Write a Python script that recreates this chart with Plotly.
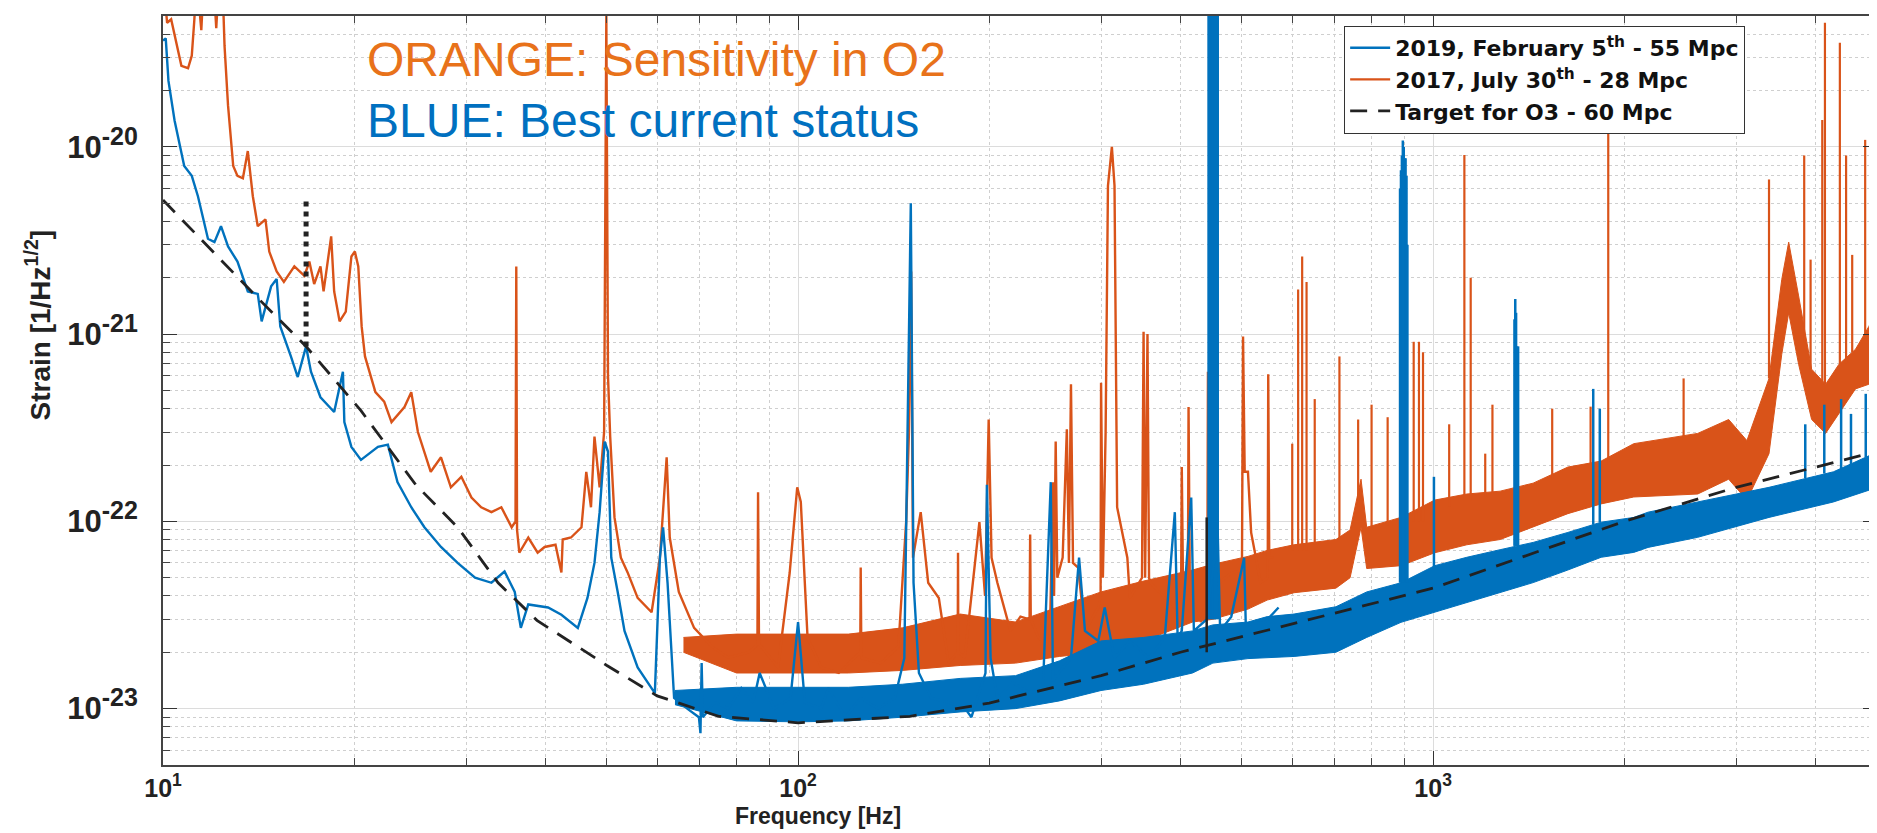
import math
import plotly.graph_objects as go

# ---------------- data ----------------
# Target for O3 (dashed)
target_f = [10.0, 12.05, 14.1, 16.8, 20.5, 25.0, 29.1, 33.7, 38.8, 50.0, 60.0,
            75.0, 100.0, 150.0, 200.0, 300.0, 400.0, 550.0, 1000.0, 2000.0, 3000.0, 5000.0]
target_h = [5.2e-21, 2.72e-21, 1.56e-21, 8.6e-22, 3.9e-22, 1.57e-22, 9.3e-23, 4.7e-23, 2.96e-23, 1.7e-23, 1.17e-23,
            9.1e-24, 8.4e-24, 9.1e-24, 1.07e-23, 1.5e-23, 2.0e-23, 2.63e-23, 4.4e-23, 1.0e-22, 1.52e-22, 2.36e-22]
target_dot_f = [16.8]
target_dot_lo = [8.6e-22]
target_dot_hi = [5.4e-21]
target_bar_f = [440.0]
target_bar_lo = [2.0e-23]
target_bar_hi = [1.05e-22]

# 2019, February 5th (blue) - low/mid frequency trace
blue_f = [10.0, 10.1, 10.2, 10.43, 10.8, 11.1, 11.35, 11.77, 12.05, 12.34,
          12.66, 13.1, 13.6, 14.1, 14.3, 14.8, 15.1, 15.3, 15.9, 16.3,
          16.8, 17.1, 17.7, 18.6, 19.2, 19.3, 19.8, 20.5, 21.8, 22.6,
          23.4, 24.6, 25.8, 27.4, 29.1, 31.0, 32.9, 34.5, 35.8, 36.6,
          37.6, 40.4, 42.4, 45.0, 46.6, 47.8, 48.7, 49.6, 50.2, 50.8,
          52.0, 53.3, 55.9, 59.5, 60.6, 61.3, 62.3, 63.8, 66.9, 69.8,
          70.2, 70.5, 70.8, 74.0, 77.6, 81.4, 85.0, 87.0, 91.7, 97.3,
          100.0, 102.5, 108.8, 111.6, 118.7, 125.5, 133.6, 142.0, 147.0, 150.5,
          152.0, 155.0, 162.0, 172.6, 183.3, 187.5, 197.3, 198.3, 201.0, 206.0,
          218.0, 232.0, 243.0, 250.0, 252.0, 257.0, 269.0, 277.0, 283.0, 297.0,
          304.0, 315.0, 333.0, 357.0, 378.0, 392.0, 396.0, 402.0, 416.0, 420.0,
          440.0, 458.0, 462.0, 481.0, 504.0, 507.0, 544.0, 571.0]
blue_h = [3.7e-20, 3.8e-20, 2.25e-20, 1.38e-20, 7.9e-21, 7.0e-21, 5.45e-21, 3.23e-21, 3.1e-21, 3.77e-21,
          2.94e-21, 2.44e-21, 1.69e-21, 1.64e-21, 1.17e-21, 1.8e-21, 1.97e-21, 1.1e-21, 7.6e-22, 5.9e-22,
          8.6e-22, 6.3e-22, 4.6e-22, 3.84e-22, 6.3e-22, 3.39e-22, 2.5e-22, 2.13e-22, 2.5e-22, 2.57e-22,
          1.62e-22, 1.19e-22, 9.3e-23, 7.3e-23, 6.0e-23, 5.0e-23, 4.7e-23, 5.4e-23, 4.2e-23, 2.7e-23,
          3.6e-23, 3.47e-23, 3.17e-23, 2.7e-23, 3.9e-23, 6.0e-23, 1.12e-22, 2.67e-22, 2.36e-22, 6.4e-23,
          4.2e-23, 2.6e-23, 1.66e-23, 1.21e-23, 6.4e-23, 9.3e-23, 4.7e-23, 1.14e-23, 1.0e-23, 9.0e-24,
          7.4e-24, 1.75e-23, 9.0e-24, 1.08e-23, 1.0e-23, 1.29e-23, 1.08e-23, 1.55e-23, 1.0e-23, 1.14e-23,
          2.9e-23, 1.08e-23, 1.0e-23, 1.29e-23, 9.0e-24, 1.14e-23, 1.0e-23, 1.14e-23, 1.86e-23, 5.0e-21,
          4.7e-23, 1.55e-23, 1.14e-23, 1.08e-23, 1.0e-23, 9.0e-24, 1.55e-23, 1.57e-22, 1.86e-23, 1.14e-23,
          1.38e-23, 1.21e-23, 1.29e-23, 1.62e-22, 1.4e-23, 1.55e-23, 1.86e-23, 6.4e-23, 2.6e-23, 2.3e-23,
          3.47e-23, 1.86e-23, 2.3e-23, 1.86e-23, 2.4e-23, 1.12e-22, 2.4e-23, 2.6e-23, 1.34e-22, 2.6e-23,
          3.0e-23, 8.7e-23, 2.6e-23, 3.1e-23, 6.4e-23, 2.8e-23, 2.9e-23, 3.47e-23]

# blue noise band (lower / upper envelope)
blue_band_f = [64, 80, 100, 120, 146, 180, 220, 258, 300, 350, 418, 450, 511, 548,
               604, 703, 786, 890, 1006, 1130, 1275, 1437, 1630, 1839, 2070, 2180, 2610, 3380, 4270, 5010]
blue_band_lo = [1.05e-23, 8.6e-24, 8.5e-24, 8.6e-24, 9.0e-24, 9.6e-24, 1.0e-23, 1.1e-23,
                1.25e-23, 1.35e-23, 1.55e-23, 1.75e-23, 1.85e-23, 1.87e-23, 1.9e-23, 2.0e-23, 2.4e-23,
                2.89e-23, 3.27e-23, 3.68e-23, 4.17e-23, 4.71e-23, 5.5e-23, 6.43e-23, 6.83e-23, 7.26e-23,
                8.22e-23, 1.05e-22, 1.27e-22, 1.52e-22]
blue_band_hi = [1.25e-23, 1.3e-23, 1.3e-23, 1.3e-23, 1.35e-23, 1.45e-23, 1.5e-23, 1.8e-23,
                2.3e-23, 2.4e-23, 2.6e-23, 2.8e-23, 2.9e-23, 3.1e-23, 3.2e-23, 3.5e-23, 4.2e-23,
                4.7e-23, 5.8e-23, 6.43e-23, 7.06e-23, 7.72e-23, 8.73e-23, 9.9e-23, 1.05e-22, 1.12e-22,
                1.27e-22, 1.52e-22, 1.84e-22, 2.35e-22]

# blue spectral lines
blue_line_f = [443, 445.5, 448, 450.5, 453, 455.5, 458,
               887, 890, 893, 896, 899, 902, 905, 908, 911,
               1003, 1343, 1347, 1351, 1356, 1361,
               1787, 1830, 3855, 4130, 4390, 4550, 4800, 4990]
blue_line_base = [3.0e-23, 3.0e-23, 3.0e-23, 3.0e-23, 3.0e-23, 3.0e-23, 3.0e-23,
                  4.7e-23, 4.7e-23, 4.7e-23, 4.7e-23, 4.7e-23, 4.7e-23, 4.7e-23, 4.7e-23, 4.7e-23,
                  5.7e-23, 7.4e-23, 7.4e-23, 7.4e-23, 7.4e-23, 7.4e-23,
                  9.6e-23, 9.9e-23, 1.7e-22, 1.8e-22, 1.9e-22, 2.0e-22, 2.2e-22, 2.3e-22]
blue_line_top = [9e-20, 9e-20, 9e-20, 9e-20, 9e-20, 9e-20, 9e-20,
                 6e-21, 7.5e-21, 9e-21, 1.08e-20, 1.0e-20, 8.7e-21, 8.7e-21, 7e-21, 3e-21,
                 1.73e-22, 1.2e-21, 1.54e-21, 1.3e-21, 8.6e-22, 8.6e-22,
                 5.1e-22, 4.0e-22, 3.3e-22, 4.2e-22, 4.5e-22, 3.75e-22, 4.8e-22, 5.1e-22]

# 2017, July 30th (orange) - low/mid frequency trace
orange_f = [10.0, 10.15, 10.3, 10.69, 10.95, 11.1, 11.2, 11.3, 11.49, 11.6,
            12.0, 12.13, 12.25, 12.4, 12.5, 12.66, 12.9, 13.1, 13.36, 13.6,
            13.85, 14.1, 14.5, 14.7, 15.1, 15.5, 16.1, 16.7, 17.0, 17.3,
            17.7, 17.9, 18.4, 18.6, 18.97, 19.4, 19.8, 20.05, 20.3, 20.55,
            20.8, 21.6, 22.3, 22.9, 24.0, 24.6, 25.2, 26.4, 27.4, 28.4,
            29.5, 30.6, 31.7, 32.9, 34.1, 35.4, 35.9, 36.0, 36.1, 36.4,
            37.6, 38.9, 39.9, 41.5, 42.4, 42.6, 43.9, 45.6, 46.4, 47.2,
            47.8, 48.7, 49.5, 49.9, 50.2, 50.6, 51.4, 52.6, 53.9, 55.9,
            58.8, 60.6, 62.1, 62.8, 64.9, 68.6, 73.1, 77.6, 83.7, 86.3,
            86.5, 86.8, 87.5, 93.0, 97.0, 99.7, 101.0, 103.5, 108.8, 115.9,
            125.3, 125.5, 125.8, 135.0, 143.9, 148.0, 149.5, 150.7, 151.7, 156.0,
            160.3, 166.6, 172.6, 178.4, 178.6, 178.8, 183.0, 193.0, 197.0, 199.6,
            201.7, 206.0, 216.0, 224.0, 231.5, 232.0, 232.5, 239.0, 249.0, 252.0,
            253.0, 254.5, 256.0, 261.0, 265.0, 267.0, 269.0, 271.0, 276.0, 283.0,
            297.0, 299.5, 300.0, 302.0, 305.0, 307.6, 312.0, 315.0, 318.0, 330.0,
            333.0, 348.0, 350.0, 352.0, 355.0, 357.0, 359.0, 378.0, 392.0, 401.0,
            402.0, 404.0, 411.0, 412.0, 414.0, 421.0, 431.0, 441.0, 442.0, 444.0,
            451.0, 460.0, 481.0, 500.0, 502.0, 505.0, 511.0, 517.0, 535.0, 549.0,
            550.0, 552.0, 561.0]
orange_h = [8e-20, 4.6e-20, 4.8e-20, 2.71e-20, 2.63e-20, 3.07e-20, 4.7e-20, 8e-20, 4.2e-20, 8e-20,
            8e-20, 4.3e-20, 8e-20, 8e-20, 3.46e-20, 1.66e-20, 7.9e-21, 7.0e-21, 6.8e-21, 9.5e-21,
            5.45e-21, 3.77e-21, 4.1e-21, 2.76e-21, 2.16e-21, 1.9e-21, 2.3e-21, 2.05e-21, 2.44e-21, 1.85e-21,
            2.3e-21, 1.69e-21, 3.33e-21, 1.69e-21, 1.17e-21, 1.32e-21, 2.6e-21, 2.76e-21, 2.3e-21, 1.1e-21,
            7.6e-22, 4.9e-22, 4.36e-22, 3.39e-22, 4.08e-22, 4.9e-22, 3.0e-22, 1.84e-22, 2.2e-22, 1.52e-22,
            1.73e-22, 1.34e-22, 1.19e-22, 1.12e-22, 1.19e-22, 9.3e-23, 1.0e-22, 2.3e-21, 9.0e-23, 6.8e-23,
            8.2e-23, 6.8e-23, 7.3e-23, 7.5e-23, 5.34e-23, 8.0e-23, 8.2e-23, 9.3e-23, 1.84e-22, 1.19e-22,
            2.84e-22, 1.52e-22, 3.0e-22, 5.0e-20, 6.0e-22, 2.84e-22, 1.05e-22, 6.4e-23, 5.34e-23, 3.9e-23,
            3.27e-23, 6.4e-23, 2.2e-22, 8.2e-23, 4.2e-23, 2.7e-23, 2.15e-23, 1.87e-23, 2.0e-23, 2.2e-23,
            1.43e-22, 2.2e-23, 2.15e-23, 1.66e-23, 5.3e-23, 1.52e-22, 1.27e-22, 2.4e-23, 1.66e-23, 1.55e-23,
            2.0e-23, 5.67e-23, 1.87e-23, 1.75e-23, 2.15e-23, 1.0e-22, 3.0e-22, 2.16e-21, 6.4e-23, 1.12e-22,
            4.7e-23, 3.9e-23, 1.75e-23, 2.0e-23, 6.8e-23, 2.0e-23, 1.87e-23, 9.9e-23, 4.0e-23, 3.5e-22,
            6.4e-23, 4.7e-23, 2.6e-23, 3.1e-23, 3.0e-23, 8.5e-23, 3.0e-23, 2.4e-23, 2.15e-23, 1.62e-22,
            4.0e-23, 2.67e-22, 5.0e-23, 6.4e-23, 3.1e-22, 6.0e-23, 5.4e-22, 6.0e-23, 5.67e-23, 2.6e-23,
            3.47e-23, 4.0e-23, 5.5e-22, 5.0e-23, 3.0e-22, 6.2e-21, 1.0e-20, 6.2e-21, 1.19e-22, 6.4e-23,
            3.9e-23, 5.0e-23, 1.03e-21, 5.0e-23, 1.0e-21, 5.0e-23, 4.7e-23, 3.9e-23, 3.47e-23, 4.0e-23,
            1.95e-22, 4.0e-23, 4.0e-23, 4.08e-22, 4.0e-23, 3.47e-23, 2.9e-23, 4.0e-23, 6.3e-22, 6.4e-23,
            6.4e-23, 4.7e-23, 5.3e-23, 5.5e-23, 9.7e-22, 1.84e-22, 1.84e-22, 8.7e-23, 4.7e-23, 5.0e-23,
            6.1e-22, 6.4e-23, 6.4e-23]

# orange noise band (lower / upper envelope)
orange_band_f = [66, 80, 100, 120, 146, 180, 220, 258, 300, 350, 418, 450, 511, 548,
                 604, 703, 740, 770, 786, 890, 1006, 1130, 1275, 1437, 1630, 1839, 2070, 2610,
                 2920, 3120, 3380, 3540, 3630, 3763, 3945, 4150, 4355, 4625, 4855, 5040]
orange_band_lo = [2.0e-23, 1.55e-23, 1.55e-23, 1.55e-23, 1.6e-23, 1.7e-23, 1.75e-23, 1.9e-23,
                  2.0e-23, 2.3e-23, 2.9e-23, 3.0e-23, 3.4e-23, 3.8e-23, 4.16e-23, 4.4e-23, 5.0e-23, 9.3e-23,
                  5.6e-23, 5.8e-23, 6.8e-23, 7.5e-23, 8.0e-23, 9.3e-23, 1.1e-22, 1.24e-22, 1.35e-22, 1.4e-22,
                  1.68e-22, 1.3e-22, 2.3e-22, 7.8e-22, 1.3e-21, 6.9e-22, 3.5e-22, 2.95e-22, 3.75e-22,
                  5.1e-22, 5.4e-22, 7.8e-22]
orange_band_hi = [2.4e-23, 2.5e-23, 2.5e-23, 2.5e-23, 2.7e-23, 3.2e-23, 2.9e-23, 3.5e-23,
                  4.2e-23, 4.8e-23, 5.5e-23, 5.9e-23, 6.5e-23, 7.0e-23, 7.5e-23, 8.0e-23, 9.0e-23, 1.68e-22,
                  9.3e-23, 1.05e-22, 1.3e-22, 1.4e-22, 1.45e-22, 1.6e-22, 1.95e-22, 2.1e-22, 2.6e-22, 2.95e-22,
                  3.5e-22, 2.7e-22, 5.8e-22, 1.96e-21, 3.1e-21, 1.6e-21, 6.5e-22, 5.4e-22, 6.9e-22,
                  8.3e-22, 1.1e-21, 1.45e-21]

# orange spectral lines
orange_line_f = [600, 613, 622, 632, 651, 712, 762, 800, 848, 932, 950, 964, 1060, 1120, 1146, 1208,
                 1240, 1540, 1770, 1887, 2480, 3380, 3840, 3930, 4100, 4140, 4370, 4470, 4570, 4790]
orange_line_base = [7.0e-23, 7.0e-23, 7.0e-23, 7.0e-23, 7.5e-23, 8.0e-23, 1.2e-22, 9.3e-23, 9.5e-23, 1.0e-22,
                    1.0e-22, 1.0e-22, 1.2e-22, 1.3e-22, 1.3e-22, 1.35e-22, 1.4e-22, 1.7e-22, 2.0e-22, 2.0e-22,
                    2.8e-22, 5.8e-22, 9e-22, 6.5e-22, 5.4e-22, 5.4e-22, 6.9e-22, 7e-22, 8e-22, 1.0e-21]
orange_line_top = [2.6e-22, 1.73e-21, 2.6e-21, 1.9e-21, 4.5e-22, 7.6e-22, 3.5e-22, 4.2e-22, 3.6e-22, 9.1e-22,
                   9.1e-22, 8.0e-22, 3.3e-22, 9.05e-21, 2.0e-21, 2.3e-22, 4.2e-22, 4.0e-22, 4.1e-22, 1.3e-20,
                   5.8e-22, 6.7e-21, 9.0e-21, 2.5e-21, 1.39e-20, 4.6e-20, 3.6e-20, 9.0e-21, 2.65e-21, 1.09e-20]

x_tick_vals = [10, 100, 1000]
x_tick_text = ["10<sup>1</sup>", "10<sup>2</sup>", "10<sup>3</sup>"]
y_tick_vals = [1e-23, 1e-22, 1e-21, 1e-20]
y_tick_exp = ["-23", "-22", "-21", "-20"]

legend_names = ["<b>2019, February 5<sup>th</sup> - 55 Mpc</b>",
                "<b>2017, July 30<sup>th</sup> - 28 Mpc</b>",
                "<b>Target for O3 - 60 Mpc</b>"]

# ---------------- styling ----------------
BLUE = "#0072BD"
ORANGE = "#D95319"
FONT = "Liberation Sans, Arial, sans-serif"


def segments(f, lo, hi):
    xs, ys = [], []
    for a, b, c in zip(f, lo, hi):
        xs += [a, a, None]
        ys += [b, c, None]
    return xs, ys


def minor_vals(decades, lo_val, hi_val):
    out = []
    for d in decades:
        for m in range(2, 10):
            v = m * d
            if lo_val < v < hi_val:
                out.append(v)
    return out


fig = go.Figure()

# orange
fig.add_trace(go.Scatter(x=orange_band_f, y=orange_band_lo, mode="lines",
                         line=dict(color=ORANGE, width=1), showlegend=False, hoverinfo="skip"))
fig.add_trace(go.Scatter(x=orange_band_f, y=orange_band_hi, mode="lines", fill="tonexty",
                         fillcolor=ORANGE, line=dict(color=ORANGE, width=1),
                         showlegend=False, hoverinfo="skip"))
ox, oy = segments(orange_line_f, orange_line_base, orange_line_top)
fig.add_trace(go.Scatter(x=ox, y=oy, mode="lines", line=dict(color=ORANGE, width=2.2),
                         showlegend=False, hoverinfo="skip"))
fig.add_trace(go.Scatter(x=orange_f, y=orange_h, mode="lines", line=dict(color=ORANGE, width=2.4),
                         name=legend_names[1], legendrank=2))

# blue
fig.add_trace(go.Scatter(x=blue_band_f, y=blue_band_lo, mode="lines",
                         line=dict(color=BLUE, width=1), showlegend=False, hoverinfo="skip"))
fig.add_trace(go.Scatter(x=blue_band_f, y=blue_band_hi, mode="lines", fill="tonexty",
                         fillcolor=BLUE, line=dict(color=BLUE, width=1),
                         showlegend=False, hoverinfo="skip"))
bx, by = segments(blue_line_f, blue_line_base, blue_line_top)
fig.add_trace(go.Scatter(x=bx, y=by, mode="lines", line=dict(color=BLUE, width=2.5),
                         showlegend=False, hoverinfo="skip"))
fig.add_trace(go.Scatter(x=blue_f, y=blue_h, mode="lines", line=dict(color=BLUE, width=2.4),
                         name=legend_names[0], legendrank=1))

# target
dx, dy = segments(target_dot_f, target_dot_lo, target_dot_hi)
fig.add_trace(go.Scatter(x=dx, y=dy, mode="lines", line=dict(color="#222222", width=5, dash="dot"),
                         showlegend=False, hoverinfo="skip"))
sx, sy = segments(target_bar_f, target_bar_lo, target_bar_hi)
fig.add_trace(go.Scatter(x=sx, y=sy, mode="lines", line=dict(color="#222222", width=2.5),
                         showlegend=False, hoverinfo="skip"))
fig.add_trace(go.Scatter(x=target_f, y=target_h, mode="lines",
                         line=dict(color="#222222", width=2.8, dash="17px,11px"),
                         name=legend_names[2], legendrank=3))

axis_common = dict(
    type="log", showline=True, linecolor="#444444", linewidth=1.5, mirror="allticks",
    ticks="inside", ticklen=14, tickwidth=1.3, tickcolor="#333333",
    showgrid=True, gridcolor="#dcdcdc", gridwidth=1, zeroline=False,
)

fig.update_xaxes(
    range=[1, math.log10(5000)], tickmode="array", tickvals=x_tick_vals, ticktext=x_tick_text,
    tickfont=dict(family=FONT, size=25, color="#222222", weight="bold"),
    minor=dict(tickmode="array", tickvals=minor_vals([10, 100, 1000], 10, 5000), ticks="inside",
               ticklen=7, tickcolor="#444444", showgrid=True, gridcolor="#cfcfcf", griddash="dot"),
    **axis_common,
)
fig.update_yaxes(
    range=[math.log10(5e-24), math.log10(5e-20)], tickmode="array", tickvals=y_tick_vals,
    ticktext=["10<sup><span style='font-size:25px'>%s</span></sup>\u00a0\u00a0" % e for e in y_tick_exp],
    tickfont=dict(family=FONT, size=31, color="#222222", weight="bold"),
    minor=dict(tickmode="array", tickvals=minor_vals([1e-24, 1e-23, 1e-22, 1e-21, 1e-20], 5e-24, 5.01e-20),
               ticks="inside", ticklen=7, tickcolor="#444444", showgrid=True, gridcolor="#cfcfcf",
               griddash="dot"),
    **axis_common,
)

fig.update_layout(
    width=1877, height=833,
    margin=dict(l=155, r=6, t=7, b=76),
    paper_bgcolor="white", plot_bgcolor="white",
    showlegend=True,
    legend=dict(x=0.689, y=0.987, xanchor="left", yanchor="top", traceorder="normal",
                bgcolor="white", bordercolor="#333333", borderwidth=1.2,
                font=dict(family="DejaVu Sans", size=22, color="#111111"),
                tracegroupgap=0, itemwidth=40),
    annotations=[
        dict(xref="paper", yref="paper", x=0.118, y=0.942, xanchor="left", yanchor="middle",
             text="ORANGE: Sensitivity in O2", showarrow=False,
             font=dict(family="Liberation Sans, Arial", size=48, color="#E8721A")),
        dict(xref="paper", yref="paper", x=0.118, y=0.861, xanchor="left", yanchor="middle",
             text="BLUE: Best current status", showarrow=False,
             font=dict(family="Liberation Sans, Arial", size=48, color="#0070C0")),
        dict(xref="paper", yref="paper", x=0.382, y=-0.068, xanchor="center", yanchor="middle",
             text="<b>Frequency [Hz]</b>", showarrow=False,
             font=dict(family=FONT, size=23, color="#222222")),
        dict(xref="paper", yref="paper", x=-0.073, y=0.588, xanchor="center", yanchor="middle",
             text="<b>Strain [1/Hz<sup>1/2</sup>]</b>", textangle=-90, showarrow=False,
             font=dict(family=FONT, size=28, color="#222222")),
    ],
)

fig.write_html("out.html")
